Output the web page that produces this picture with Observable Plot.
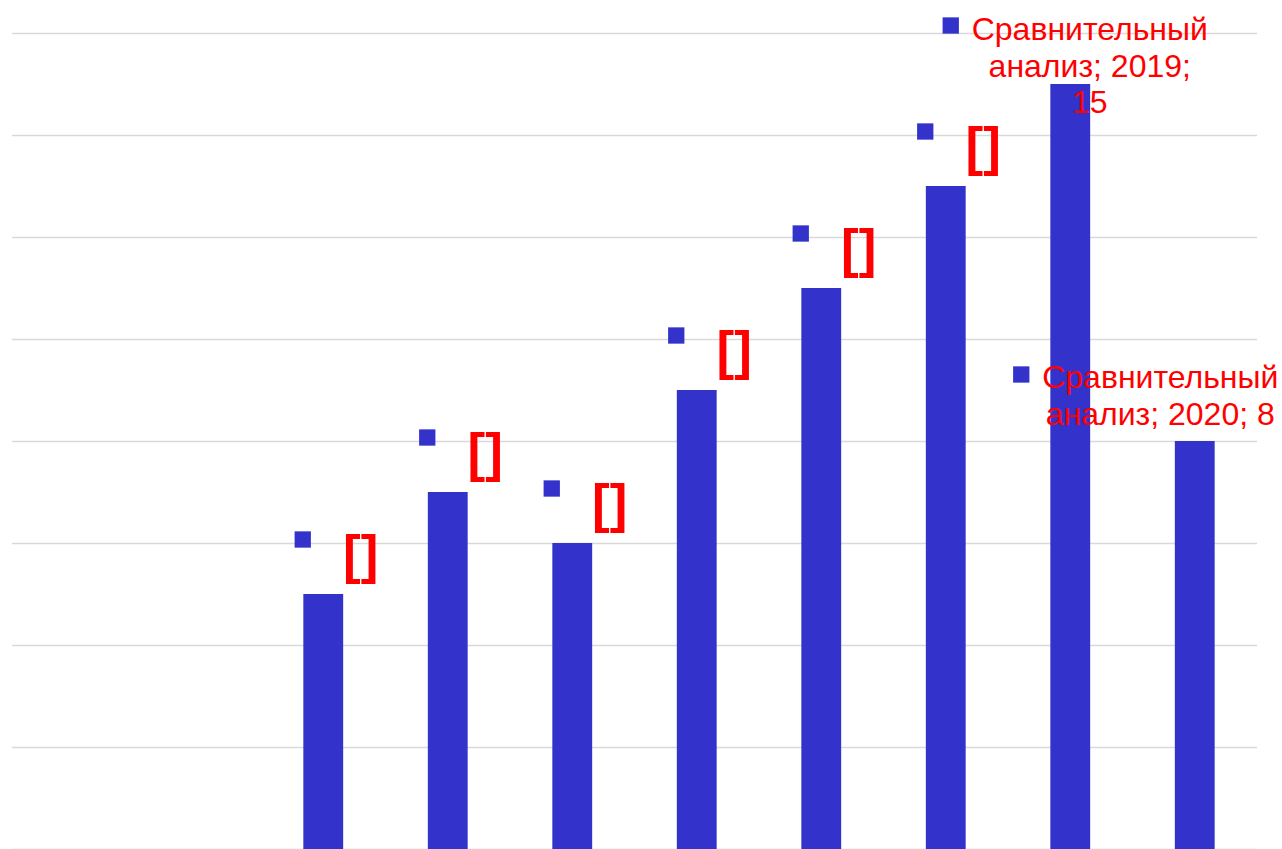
<!DOCTYPE html>
<html>
<head>
<meta charset="utf-8">
<script src="https://cdn.jsdelivr.net/npm/d3@7"></script>
<script src="https://cdn.jsdelivr.net/npm/@observablehq/plot@0.6"></script>
<style>
  html, body { margin: 0; padding: 0; background: #fff; overflow: hidden; }
  #chart svg { display: block; overflow: visible; }
</style>
</head>
<body>
<div id="chart"></div>
<script>
const seriesName = "Сравнительный анализ";
const categories = ["2011", "2012", "2013", "2014", "2015", "2016", "2017", "2018", "2019", "2020"];
const values = [null, null, 5, 7, 6, 9, 11, 13, 15, 8];
const labels = [null, null, "[]", "[]", "[]", "[]", "[]", "[]",
  "Сравнительный\nанализ; 2019;\n15", "Сравнительный\nанализ; 2020; 8"];
const yTicks = [0, 2, 4, 6, 8, 10, 12, 14, 16];

const data = categories.map((c, i) => ({category: c, value: values[i], label: labels[i]}));
const bars = data.filter(d => d.value != null);
const bracketLabels = bars.filter(d => d.label === "[]");
const label2019 = bars.filter(d => d.category === "2019");
const label2020 = bars.filter(d => d.category === "2020");

const blue = "#3333cc";
const red = "#ff0000";
const font = "'Liberation Sans', Arial, sans-serif";

const chart = Plot.plot({
  width: 1282,
  height: 849,
  marginLeft: 12,
  marginRight: 25,
  marginTop: 33,
  marginBottom: 0,
  style: {fontFamily: font, background: "#fff", overflow: "visible"},
  x: {domain: categories, paddingInner: 0.68, paddingOuter: 0.34, round: false, axis: null},
  y: {domain: [0, 16], axis: null},
  marks: [
    Plot.ruleY(yTicks, {stroke: "#d9d9d9", strokeWidth: 1.6}),
    Plot.barY(bars, {x: "category", y: "value", fill: blue}),
    Plot.dot(bracketLabels, {x: "category", y: "value", symbol: "square", r: 9.2, fill: blue, stroke: null, dx: -21, dy: -55}),
    Plot.text(bracketLabels, {x: "category", y: "value", text: "label", fill: red, fontWeight: 900, fontSize: 53, dx: 37, dy: -38}),
    Plot.dot(label2019, {x: "category", y: "value", symbol: "square", r: 9.2, fill: blue, stroke: null, dx: -120, dy: -59}),
    Plot.text(label2019, {x: "category", y: "value", text: "label", fill: red, fontSize: 32, lineHeight: 1.14, lineAnchor: "top", dx: 19, dy: -70}),
    Plot.dot(label2020, {x: "category", y: "value", symbol: "square", r: 9.2, fill: blue, stroke: null, dx: -174, dy: -67}),
    Plot.text(label2020, {x: "category", y: "value", text: "label", fill: red, fontSize: 32, lineHeight: 1.14, lineAnchor: "top", dx: -35, dy: -79})
  ]
});
document.getElementById("chart").appendChild(chart);
</script>
</body>
</html>
